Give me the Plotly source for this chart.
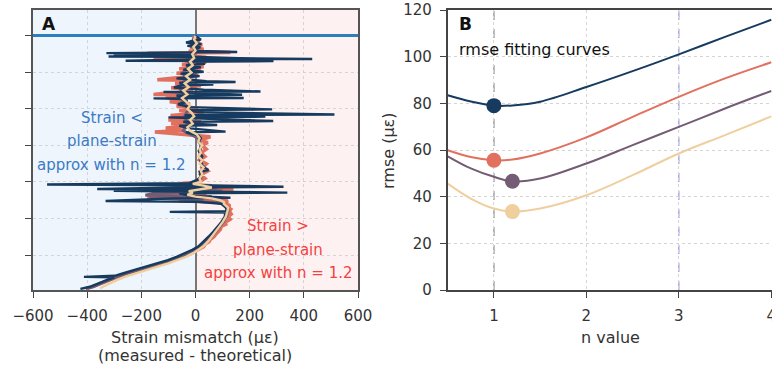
import plotly.graph_objects as go

W, H = 772, 366

# ---------------- Panel A data: strain mismatch (µε) vs depth (tick units) ----------------
navy_depth = [0.00, 0.05, 0.10, 0.13, 0.18, 0.22, 0.27, 0.31, 0.36, 0.41, 0.44, 0.45, 0.47, 0.48, 0.51, 0.52,
              0.56, 0.57, 0.61, 0.63, 0.64, 0.68, 0.69, 0.71, 0.76, 0.80, 0.86, 0.92, 0.98, 1.03, 1.10, 1.16,
              1.24, 1.26, 1.28, 1.33, 1.35, 1.41, 1.47, 1.52, 1.53, 1.55, 1.61, 1.63, 1.68, 1.70, 1.71, 1.73,
              1.80, 1.87, 1.95, 2.01, 2.03, 2.09, 2.15, 2.17, 2.21, 2.23, 2.25, 2.33, 2.35, 2.41, 2.44, 2.46,
              2.53, 2.62, 2.64, 2.72, 2.80, 2.90, 3.00, 3.15, 3.30, 3.45, 3.60, 3.67, 3.72, 3.85, 3.95, 4.03,
              4.07, 4.09, 4.13, 4.15, 4.19, 4.21, 4.24, 4.26, 4.29, 4.31, 4.38, 4.43, 4.45, 4.52, 4.54, 4.60,
              4.70, 4.80, 4.82, 4.84, 4.95, 5.10, 5.22, 5.36, 5.50, 5.64, 5.77, 5.86, 5.95, 6.05, 6.14, 6.23,
              6.32, 6.41, 6.50, 6.57, 6.60, 6.61, 6.68, 6.78, 6.87, 6.93]
navy_mis = [0, 8, 20, -10, -35, 22, -30, 18, -8, 5, 154, -15, -329, -30, -302, -10,
            -321, -20, 160, 431, 0, -258, 288, -10, 35, -35, 20, -45, 30, -55, 15, -70,
            40, 148, -60, 66, -50, -80, 30, 240, -118, -40, 172, -70, -40, 178, -155, -40,
            -30, -65, -20, 283, -30, 10, 513, -40, 258, -100, -20, 287, -45, 10, 80, -60,
            -20, 111, -35, 10, 20, 10, 22, 12, 25, 18, 32, 48, 15, 20, 5, -20,
            -548, 10, 325, -40, -363, 30, -302, 40, 339, -60, -20, 129, -80, -332, 10, 95,
            112, 115, -95, 110, 108, 95, 82, 66, 48, 30, 10, -12, -38, -70, -102, -140,
            -182, -225, -266, -298, -412, -300, -326, -358, -390, -425]

salmon_depth = [0.00, 0.06, 0.12, 0.18, 0.24, 0.30, 0.36, 0.42, 0.45, 0.47, 0.50, 0.54, 0.58, 0.62, 0.64, 0.67,
                0.72, 0.78, 0.84, 0.90, 0.96, 1.02, 1.08, 1.14, 1.20, 1.22, 1.30, 1.36, 1.42, 1.48, 1.55, 1.60,
                1.62, 1.68, 1.74, 1.80, 1.86, 1.92, 1.98, 2.04, 2.10, 2.18, 2.20, 2.25, 2.30, 2.34, 2.40, 2.46,
                2.52, 2.58, 2.63, 2.68, 2.72, 2.76, 2.80, 2.86, 2.92, 3.00, 3.10, 3.20, 3.30, 3.40, 3.50, 3.60,
                3.70, 3.80, 3.90, 4.00, 4.05, 4.10, 4.16, 4.20, 4.25, 4.32, 4.38, 4.44, 4.48, 4.52, 4.56, 4.60,
                4.65, 4.70, 4.75, 4.80, 4.88, 4.95, 5.02, 5.10, 5.16, 5.22, 5.30, 5.36, 5.43, 5.50, 5.57, 5.64,
                5.70, 5.77, 5.86, 5.95, 6.05, 6.14, 6.23, 6.32, 6.41, 6.50, 6.59, 6.68, 6.78, 6.87, 6.92]
salmon_mis = [0, -10, 15, -15, 25, -20, 30, -25, 129, -178, 20, -60, 40, -155, 66, -40,
              40, -50, 30, -60, 20, -70, 10, -80, -141, 0, -75, 20, -90, -10, -100, -155,
              -20, -110, -30, -95, -20, -70, 10, -60, 30, -92, 80, -40, -100, 20, -90, -20,
              -110, -40, -150, -60, 20, 55, 40, 20, 45, 25, 40, 20, 35, 15, 40, 25,
              45, 20, 35, 10, -60, 60, -81, 140, -30, -120, 40, -178, 60, 120, 110, 110,
              128, 118, 130, 125, 132, 120, 128, 110, 112, 95, 92, 82, 75, 68, 55, 50,
              36, 30, 10, -15, -50, -85, -122, -165, -210, -250, -285, -315, -348, -378, -400]

purple_depth = [0.00, 0.20, 0.40, 0.60, 0.80, 1.00, 1.20, 1.40, 1.60, 1.80, 2.00, 2.20, 2.40, 2.60, 2.80, 3.00,
                3.30, 3.60, 3.90, 4.05, 4.10, 4.15, 4.20, 4.25, 4.30, 4.36, 4.40, 4.44, 4.48, 4.52, 4.56, 4.60,
                4.70, 4.80, 4.95, 5.10, 5.22, 5.36, 5.50, 5.64, 5.77, 5.86, 5.95, 6.05, 6.14, 6.23, 6.32, 6.41,
                6.50, 6.59, 6.68, 6.78, 6.87, 6.92]
purple_mis = [0, -15, 10, -30, -20, -45, -35, -60, -45, -50, -25, -40, -30, -45, 10, 20,
              15, 25, 20, -30, -40, 80, -120, 100, -150, -185, 60, -170, 30, -60, 80, 100,
              118, 120, 114, 102, 90, 75, 58, 40, 20, 0, -22, -55, -88, -126, -168, -212,
              -255, -288, -318, -350, -378, -405]

tan_depth = [0.00, 0.10, 0.20, 0.30, 0.40, 0.50, 0.60, 0.70, 0.80, 0.90, 1.00, 1.10, 1.20, 1.30, 1.40, 1.50,
             1.60, 1.70, 1.80, 1.90, 2.00, 2.10, 2.20, 2.30, 2.40, 2.50, 2.60, 2.70, 2.80, 2.90, 3.00, 3.10,
             3.20, 3.30, 3.40, 3.50, 3.60, 3.70, 3.80, 3.90, 4.00, 4.05, 4.10, 4.15, 4.20, 4.25, 4.30, 4.35,
             4.40, 4.45, 4.50, 4.55, 4.60, 4.70, 4.80, 4.95, 5.10, 5.22, 5.36, 5.50, 5.64, 5.77, 5.86, 5.95,
             6.05, 6.14, 6.23, 6.32, 6.41, 6.50, 6.59, 6.68, 6.78, 6.87, 6.92]
tan_mis = [0, -5, 5, -8, 0, -12, -5, -20, -10, -28, -15, -35, -20, -40, -25, -45,
           -30, -50, -35, -20, -30, -15, -5, -20, -10, -30, -20, 5, 15, 10, 25, 15,
           20, 10, 25, 15, 30, 20, 25, 15, 20, -10, 30, 60, 20, -25, -10, -30,
           0, 60, 90, 105, 105, 120, 118, 112, 100, 88, 75, 60, 45, 28, 12, -8,
           -35, -65, -100, -140, -182, -222, -258, -288, -318, -342, -352]

# ---------------- Panel B data: rmse fitting curves ----------------
n_values = [0.5, 0.75, 1.0, 1.2, 1.5, 2.0, 2.5, 3.0, 3.5, 4.0]
rmse_navy = [83.5, 80.8, 79.0, 79.1, 80.7, 87.0, 93.8, 101.0, 108.5, 115.8]
rmse_salmon = [59.9, 57.0, 55.6, 55.9, 58.5, 65.4, 74.2, 82.8, 90.7, 97.6]
rmse_purple = [57.3, 52.1, 48.5, 46.6, 47.8, 54.2, 62.1, 69.9, 77.8, 85.3]
rmse_tan = [45.6, 39.2, 34.9, 33.6, 34.9, 40.6, 49.2, 58.5, 66.4, 74.4]
min_n = [1.0, 1.0, 1.2, 1.2]
min_rmse = [79.0, 55.6, 46.6, 33.6]

C_NAVY, C_SALMON, C_PURPLE, C_TAN = "#173b5f", "#e1705e", "#735c74", "#efcf9f"
FONT = "DejaVu Sans"
TXT = "#333333"

fig = go.Figure()

# Panel A traces (draw order)
for d, v, c, w in [(salmon_depth, salmon_mis, C_SALMON, 3.5),
                   (purple_depth, purple_mis, C_PURPLE, 3.0),
                   (navy_depth, navy_mis, C_NAVY, 2.4),
                   (tan_depth, tan_mis, C_TAN, 2.4)]:
    fig.add_trace(go.Scatter(x=v, y=d, mode="lines", line=dict(color=c, width=w),
                             xaxis="x", yaxis="y", showlegend=False, hoverinfo="skip"))

# Panel B traces
for r, c in [(rmse_navy, C_NAVY), (rmse_salmon, C_SALMON), (rmse_purple, C_PURPLE), (rmse_tan, C_TAN)]:
    fig.add_trace(go.Scatter(x=n_values, y=r, mode="lines", line=dict(color=c, width=2, shape="spline", smoothing=1.0),
                             xaxis="x2", yaxis="y2", showlegend=False, hoverinfo="skip"))
fig.add_trace(go.Scatter(x=min_n, y=min_rmse, mode="markers",
                         marker=dict(size=15, color=[C_NAVY, C_SALMON, C_PURPLE, C_TAN], line=dict(width=0)),
                         xaxis="x2", yaxis="y2", showlegend=False, hoverinfo="skip"))

x0A, x1A = 33 / W, 358 / W
x0B, x1B = 447.7 / W, 1.0
yd = [1 - 290 / H, 1 - 10 / H]

grid = dict(showgrid=True, gridcolor="#d4d4d4", griddash="dot", gridwidth=1)
common = dict(ticks="outside", ticklen=6, tickwidth=1.2, tickcolor="#444", automargin=False,
              tickfont=dict(family=FONT, size=15, color=TXT), ticklabelstandoff=5,
              ticklabeloverflow="allow")

fig.update_layout(
    width=W, height=H, margin=dict(l=0, r=0, t=0, b=0, autoexpand=False),
    paper_bgcolor="white", plot_bgcolor="rgba(0,0,0,0)",
    font=dict(family=FONT, color=TXT),
    xaxis=dict(domain=[x0A, x1A], range=[-600, 600], tickvals=[-600, -400, -200, 0, 200, 400, 600],
               zeroline=True, zerolinecolor="#777777", zerolinewidth=1.5,
               showline=True, linecolor="#555", linewidth=1.5, mirror=True, anchor="y", **grid, **common),
    yaxis=dict(domain=yd, range=[6.959, -0.712], tickvals=[0, 1, 2, 3, 4, 5, 6], showticklabels=False,
               zeroline=True, zerolinecolor="#2f7ebc", zerolinewidth=3,
               showline=True, linecolor="#555", linewidth=1.5, mirror=True, anchor="x", **grid, **common),
    xaxis2=dict(domain=[x0B, x1B], range=[0.5, 4.008], tickvals=[1, 2, 3, 4], zeroline=False,
                showline=True, linecolor="#444", linewidth=1.8, mirror=True, anchor="y2", **grid, **common),
    yaxis2=dict(domain=yd, range=[0, 120], tickvals=[0, 20, 40, 60, 80, 100, 120],
                zeroline=True, zerolinecolor="#2f7ebc", zerolinewidth=2.5,
                showline=True, linecolor="#444", linewidth=1.8, mirror=True, anchor="x2", **grid, **common),
)

shapes = [
    dict(type="rect", xref="x", yref="y domain", x0=-600, x1=0, y0=0, y1=1, fillcolor="#eef5fc", line_width=0, layer="below"),
    dict(type="rect", xref="x", yref="y domain", x0=0, x1=600, y0=0, y1=1, fillcolor="#fdf2f1", line_width=0, layer="below"),
    dict(type="line", xref="x2", yref="y2 domain", x0=1, x1=1, y0=0, y1=1, line=dict(color="#a0a0a0", width=1.5, dash="dash"), layer="below"),
    dict(type="line", xref="x2", yref="y2 domain", x0=3, x1=3, y0=0, y1=1, line=dict(color="#a8a8f2", width=1.5, dash="dash"), layer="below"),
]
fig.update_layout(shapes=shapes)


def ann(text, px, py, size=15, color=TXT, xanchor="center", angle=0, bold=False):
    t = f"<b>{text}</b>" if bold else text
    return dict(text=t, x=px / W, y=1 - py / H, xref="paper", yref="paper", showarrow=False,
                xanchor=xanchor, yanchor="middle", textangle=angle,
                font=dict(family=FONT, size=size, color=color))


BLUE_T, RED_T = "#3b7ac6", "#f5403f"
annotations = [
    ann("A", 40, 24, size=17, color="#111", xanchor="left", bold=True),
    ann("B", 457, 24, size=17, color="#111", xanchor="left", bold=True),
    ann("rmse fitting curves", 457, 49, size=16, color="#111", xanchor="left"),
    ann("Strain &lt;", 112, 118, color=BLUE_T),
    ann("plane-strain", 112, 141.5, color=BLUE_T),
    ann("approx with n = 1.2", 112, 165, color=BLUE_T),
    ann("Strain &gt;", 278, 226, color=RED_T),
    ann("plane-strain", 278, 249.5, color=RED_T),
    ann("approx with n = 1.2", 278, 273, color=RED_T),
    ann("Strain mismatch (με)", 195, 337, size=16),
    ann("(measured - theoretical)", 195, 355, size=16),
    ann("n value", 610, 337, size=16),
    ann("rmse (με)", 388, 151, size=16, angle=-90),
]
fig.update_layout(annotations=annotations)

fig.write_html("out.html")
